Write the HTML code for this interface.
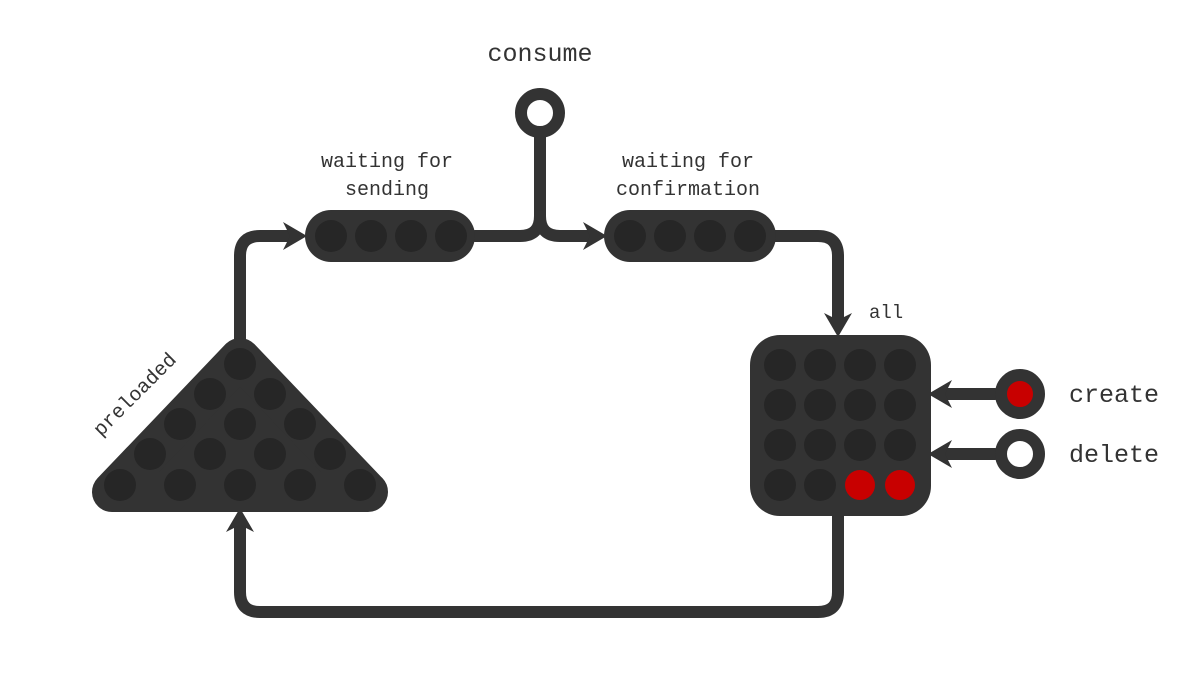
<!DOCTYPE html>
<html><head><meta charset="utf-8"><style>
html,body{margin:0;padding:0;background:#fff;width:1200px;height:700px;overflow:hidden}
text{font-family:"Liberation Mono",monospace;fill:#333}
</style></head><body>
<svg width="1200" height="700" viewBox="0 0 1200 700">
<g fill="none" stroke="#333" stroke-width="12" stroke-linecap="round" stroke-linejoin="round">
<path d="M240 345 V256 Q240 236 260 236 H290"/>
<path d="M475 236 H520 Q540 236 540 216 V125"/>
<path d="M540 216 Q540 236 560 236 H590"/>
<path d="M775 236 H818 Q838 236 838 256 V320"/>
<path d="M838 515 V592 Q838 612 818 612 H260 Q240 612 240 592 V525"/>
<path d="M995 394 H945"/>
<path d="M995 454 H945"/>
</g>
<g fill="#333">
<path d="M307 236 L283 222 L290 236 L283 250 Z"/>
<path d="M607 236 L583 222 L590 236 L583 250 Z"/>
<path d="M838 337 L824 313 L838 320 L852 313 Z"/>
<path d="M240 508 L226 532 L240 525 L254 532 Z"/>
<path d="M928 394 L952 380 L945 394 L952 408 Z"/>
<path d="M928 454 L952 440 L945 454 L952 468 Z"/>
</g>
<polygon points="240,358 112,492 368,492" fill="#333" stroke="#333" stroke-width="40" stroke-linejoin="round"/>
<g fill="#262626">
<circle cx="240" cy="364" r="16"/>
<circle cx="210" cy="394" r="16"/>
<circle cx="270" cy="394" r="16"/>
<circle cx="180" cy="424" r="16"/>
<circle cx="240" cy="424" r="16"/>
<circle cx="300" cy="424" r="16"/>
<circle cx="150" cy="454" r="16"/>
<circle cx="210" cy="454" r="16"/>
<circle cx="270" cy="454" r="16"/>
<circle cx="330" cy="454" r="16"/>
<circle cx="120" cy="485" r="16"/>
<circle cx="180" cy="485" r="16"/>
<circle cx="240" cy="485" r="16"/>
<circle cx="300" cy="485" r="16"/>
<circle cx="360" cy="485" r="16"/>
</g>
<rect x="305" y="210" width="170" height="52" rx="26" fill="#333"/>
<g fill="#262626">
<circle cx="331" cy="236" r="16"/>
<circle cx="371" cy="236" r="16"/>
<circle cx="411" cy="236" r="16"/>
<circle cx="451" cy="236" r="16"/>
</g>
<rect x="604" y="210" width="172" height="52" rx="26" fill="#333"/>
<g fill="#262626">
<circle cx="630" cy="236" r="16"/>
<circle cx="670" cy="236" r="16"/>
<circle cx="710" cy="236" r="16"/>
<circle cx="750" cy="236" r="16"/>
</g>
<rect x="750" y="335" width="181" height="181" rx="30" fill="#333"/>
<g fill="#262626">
<circle cx="780" cy="365" r="16"/>
<circle cx="820" cy="365" r="16"/>
<circle cx="860" cy="365" r="16"/>
<circle cx="900" cy="365" r="16"/>
<circle cx="780" cy="405" r="16"/>
<circle cx="820" cy="405" r="16"/>
<circle cx="860" cy="405" r="16"/>
<circle cx="900" cy="405" r="16"/>
<circle cx="780" cy="445" r="16"/>
<circle cx="820" cy="445" r="16"/>
<circle cx="860" cy="445" r="16"/>
<circle cx="900" cy="445" r="16"/>
<circle cx="780" cy="485" r="16"/>
<circle cx="820" cy="485" r="16"/>
</g>
<circle cx="860" cy="485" r="15" fill="#c80000"/>
<circle cx="900" cy="485" r="15" fill="#c80000"/>
<circle cx="540" cy="113" r="19" fill="#fff" stroke="#333" stroke-width="12"/>
<circle cx="1020" cy="394" r="19" fill="#c80000" stroke="#333" stroke-width="12"/>
<circle cx="1020" cy="454" r="19" fill="#fff" stroke="#333" stroke-width="12"/>
<text x="540" y="61" font-size="25" text-anchor="middle">consume</text>
<text x="387" y="167" font-size="20" text-anchor="middle">waiting for</text>
<text x="387" y="195" font-size="20" text-anchor="middle">sending</text>
<text x="688" y="167" font-size="20" text-anchor="middle">waiting for</text>
<text x="688" y="195" font-size="20" text-anchor="middle">confirmation</text>
<text x="869" y="318" font-size="19">all</text>
<text x="1069" y="402" font-size="25">create</text>
<text x="1069" y="462" font-size="25">delete</text>
<text x="0" y="0" font-size="20" transform="translate(101,437) rotate(-45)">preloaded</text>
</svg>
</body></html>
